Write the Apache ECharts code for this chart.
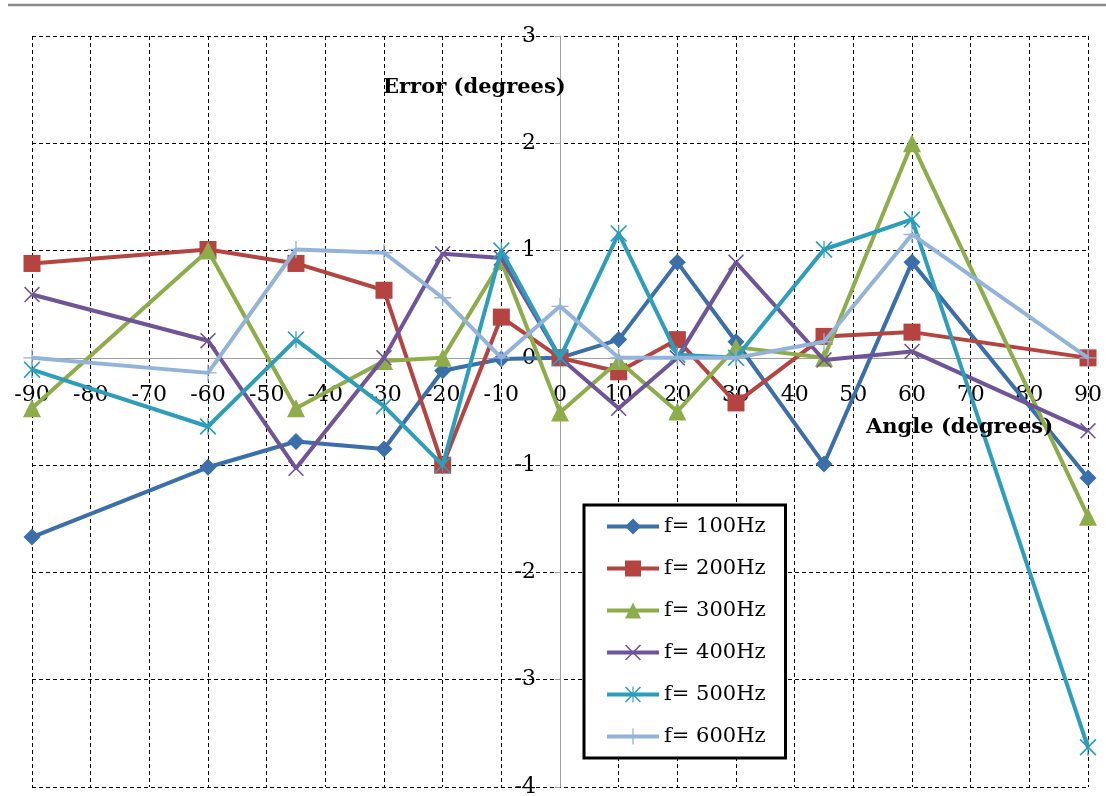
<!DOCTYPE html>
<html>
<head>
<meta charset="utf-8">
<title>Error vs Angle</title>
<script src="https://cdn.jsdelivr.net/npm/echarts@6/dist/echarts.min.js"></script>
<style>
  html, body { margin: 0; padding: 0; background: #fff; }
  #chart { width: 1106px; height: 796px; }
</style>
</head>
<body>
<div id="chart"></div>
<script>
// Measurement angles (degrees)
const angles = [-90, -60, -45, -30, -20, -10, 0, 10, 20, 30, 45, 60, 90];

// Angle error (degrees) for each test frequency
const f100 = [-1.67, -1.02, -0.78, -0.85, -0.12, -0.01, 0, 0.17, 0.89, 0.15, -0.99, 0.89, -1.12];
const f200 = [0.88, 1.01, 0.88, 0.63, -1.0, 0.38, 0, -0.13, 0.17, -0.42, 0.2, 0.24, 0];
const f300 = [-0.47, 1.0, -0.47, -0.03, 0.0, 0.9, -0.51, -0.03, -0.5, 0.1, 0, 2.0, -1.48];
const f400 = [0.59, 0.16, -1.03, 0, 0.97, 0.93, 0, -0.47, 0, 0.89, -0.02, 0.06, -0.68];
const f500 = [-0.11, -0.64, 0.17, -0.45, -1.0, 1.0, 0, 1.16, 0.03, 0, 1.01, 1.29, -3.63];
const f600 = [0, -0.14, 1.01, 0.98, 0.56, 0, 0.48, 0, 0, 0, 0.15, 1.15, 0];

const seriesNames = ['f= 100Hz', 'f= 200Hz', 'f= 300Hz', 'f= 400Hz', 'f= 500Hz', 'f= 600Hz'];
const seriesValues = [f100, f200, f300, f400, f500, f600];

// Axis settings
const xMin = -90, xMax = 90, xStep = 10;
const yMin = -4, yMax = 3, yStep = 1;
const xTitle = 'Angle (degrees)';
const yTitle = 'Error (degrees)';

// Page and plot area
const W = 1106, H = 796;
const gridBox = { left: 32, right: 18, top: 36, bottom: 9 };
const plotW = W - gridBox.left - gridBox.right;
const plotH = H - gridBox.top - gridBox.bottom;

// Axes cross at zero: shift each axis in from its edge to the zero of the other scale
const xAxisOffset = -plotH * (0 - yMin) / (yMax - yMin);
const yAxisOffset = -plotW * (0 - xMin) / (xMax - xMin);

// Marker shapes: filled outlines for x, asterisk and plus glyphs
const crossPath = 'path://M0,1.4L1.4,0L10,8.6L18.6,0L20,1.4L11.4,10L20,18.6L18.6,20L10,11.4L1.4,20L0,18.6L8.6,10Z';
const starPath = 'path://M0,1.4L1.4,0L10,8.6L18.6,0L20,1.4L11.4,10L20,18.6L18.6,20L10,11.4L1.4,20L0,18.6L8.6,10Z M9.3,0L10.7,0L10.7,20L9.3,20Z';
const plusPath = 'path://M9.2,0L10.8,0L10.8,9.2L20,9.2L20,10.8L10.8,10.8L10.8,20L9.2,20L9.2,10.8L0,10.8L0,9.2L9.2,9.2Z';

const styles = [
  { color: '#3B6FAA', symbol: 'diamond', size: 17 },
  { color: '#B5433F', symbol: 'rect', size: 17 },
  { color: '#8DAD4B', symbol: 'triangle', size: 18 },
  { color: '#6F5497', symbol: crossPath, size: 16 },
  { color: '#2C9EBA', symbol: starPath, size: 17 },
  { color: '#93B3D9', symbol: plusPath, size: 17 }
];

// Dashed grid colours; the line through zero is left to the axis itself
function gridColors(min, max, step) {
  const out = [];
  for (let v = min; v <= max + 1e-9; v += step) {
    out.push(Math.abs(v) < 1e-9 ? 'rgba(0,0,0,0)' : '#000');
  }
  return out;
}

const fontFamily = '"DejaVu Serif", "Liberation Serif", serif';

const chart = echarts.init(document.getElementById('chart'), null, { renderer: 'canvas' });

const series = seriesNames.map((name, i) => ({
  name: name,
  type: 'line',
  data: angles.map((a, j) => [a, seriesValues[i][j]]),
  symbol: styles[i].symbol,
  symbolSize: styles[i].size,
  showAllSymbol: true,
  lineStyle: { color: styles[i].color, width: 4 },
  itemStyle: { color: styles[i].color },
  emphasis: { disabled: true },
  z: 3 + i
}));

chart.setOption({
  animation: false,
  backgroundColor: '#fff',
  grid: {
    left: gridBox.left, right: gridBox.right, top: gridBox.top, bottom: gridBox.bottom,
    containLabel: false, outerBoundsMode: 'none'
  },
  xAxis: {
    type: 'value',
    position: 'bottom',
    offset: xAxisOffset,
    min: xMin, max: xMax, interval: xStep,
    axisLine: { onZero: false, lineStyle: { color: '#a0a0a0', width: 1 } },
    axisTick: { show: false },
    axisLabel: {
      color: '#000', fontFamily: fontFamily, fontSize: 22, margin: 26,
      showMinLabel: true, showMaxLabel: true, hideOverlap: false
    },
    splitLine: { show: true, lineStyle: { color: gridColors(xMin, xMax, xStep), type: [4, 3], width: 1 } }
  },
  yAxis: {
    type: 'value',
    position: 'left',
    offset: yAxisOffset,
    min: yMin, max: yMax, interval: yStep,
    axisLine: { onZero: false, lineStyle: { color: '#a0a0a0', width: 1 } },
    axisTick: { show: true, length: 5, lineStyle: { color: '#a0a0a0' } },
    axisLabel: {
      color: '#000', fontFamily: fontFamily, fontSize: 22, margin: 24,
      showMinLabel: true, showMaxLabel: true, hideOverlap: false
    },
    splitLine: { show: true, lineStyle: { color: gridColors(yMin, yMax, yStep), type: [4, 3], width: 1 } }
  },
  legend: {
    orient: 'vertical',
    left: 584, top: 505,
    backgroundColor: '#fff',
    borderColor: '#000', borderWidth: 3,
    padding: [11, 20, 11, 21],
    itemGap: 21,
    itemWidth: 52, itemHeight: 20,
    lineStyle: { width: 4 },
    textStyle: { color: '#000', fontFamily: fontFamily, fontSize: 21 },
    data: seriesNames
  },
  graphic: [
    { type: 'line', shape: { x1: 8, y1: 5, x2: W, y2: 5 }, style: { stroke: '#8c8c8c', lineWidth: 2.5 } },
    { type: 'text', left: 383, top: 77, z: 10,
      style: { text: yTitle, fill: '#000', font: 'bold 21px ' + fontFamily } },
    { type: 'text', left: 866, top: 417, z: 10,
      style: { text: xTitle, fill: '#000', font: 'bold 21px ' + fontFamily } }
  ],
  series: series
});
</script>
</body>
</html>
